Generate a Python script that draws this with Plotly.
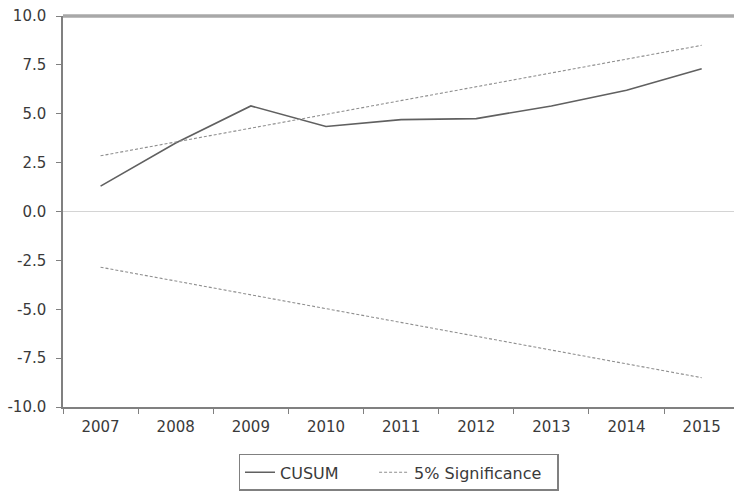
import plotly.graph_objects as go

years = ["2007", "2008", "2009", "2010", "2011", "2012", "2013", "2014", "2015"]
cusum = [1.3, 3.5, 5.4, 4.35, 4.7, 4.75, 5.4, 6.2, 7.3]
upper = [2.85, 3.56, 4.26, 4.97, 5.68, 6.38, 7.09, 7.80, 8.50]
lower = [-2.85, -3.56, -4.26, -4.97, -5.68, -6.38, -7.09, -7.80, -8.50]
y_ticks = [-10.0, -7.5, -5.0, -2.5, 0.0, 2.5, 5.0, 7.5, 10.0]
y_labels = ["-10.0", "-7.5", "-5.0", "-2.5", "0.0", "2.5", "5.0", "7.5", "10.0"]
series_names = ["CUSUM", "5% Significance"]

NB = "\u00a0"
fig = go.Figure()
fig.add_trace(go.Scatter(x=years, y=cusum, mode="lines", name=series_names[0] + NB * 6,
                         line=dict(color="#606060", width=1.6)))
fig.add_trace(go.Scatter(x=years, y=upper, mode="lines", name=series_names[1] + NB * 2,
                         line=dict(color="#8f8f8f", width=1.1, dash="3px,2px")))
fig.add_trace(go.Scatter(x=years, y=lower, mode="lines", name=series_names[1],
                         showlegend=False,
                         line=dict(color="#8f8f8f", width=1.1, dash="3px,2px")))

fig.add_shape(type="line", xref="paper", yref="paper", x0=0, x1=1, y0=1, y1=1,
              layer="above", line=dict(color="#a8a8a8", width=3.5))

font = dict(family="DejaVu Sans, Liberation Sans, sans-serif", size=15, color="#3a3a3a")
lfont = dict(family="DejaVu Sans, Liberation Sans, sans-serif", size=16, color="#3a3a3a")
fig.update_layout(
    width=734, height=494,
    margin=dict(l=63, r=0, t=16, b=87),
    paper_bgcolor="white", plot_bgcolor="white",
    font=font,
    showlegend=True,
    legend=dict(orientation="h", x=0.5, xanchor="center", y=-0.12, yanchor="top",
                bordercolor="#808080", borderwidth=1.5, bgcolor="white",
                font=lfont, itemwidth=30, tracegroupgap=0),
    xaxis=dict(type="category", range=[-0.5, 8.43], showgrid=False,
               showline=True, linecolor="#808080", linewidth=1.5,
               ticks="outside", ticklen=5, tickcolor="#808080",
               tickson="boundaries", zeroline=False, fixedrange=True,
               ticklabelstandoff=5),
    yaxis=dict(range=[-10, 10], tickvals=y_ticks, ticktext=y_labels,
               showgrid=False, showline=True, linecolor="#808080", linewidth=1.5,
               ticks="outside", ticklen=5, tickcolor="#808080",
               zeroline=True, zerolinecolor="#d4d4d4", zerolinewidth=1,
               fixedrange=True, ticklabelstandoff=7),
)

fig.write_html("out.html")
